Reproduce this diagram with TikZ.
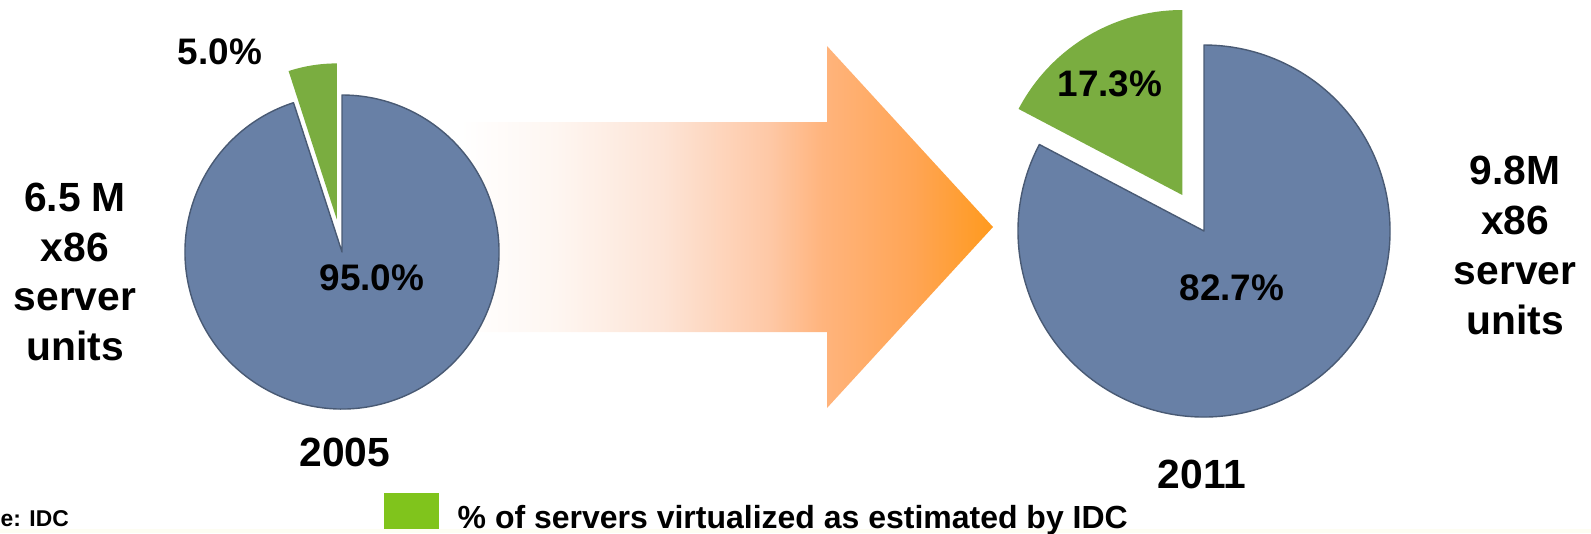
\documentclass[tikz,border=0pt]{standalone}
\usepackage{fontspec}
\setmainfont{Liberation Sans}
\definecolor{pieblue}{RGB}{104,128,166}
\definecolor{piegreen}{RGB}{122,173,64}
\definecolor{keygreen}{RGB}{128,196,28}
\definecolor{cream}{RGB}{253,253,242}
\definecolor{peachA}{RGB}{254,246,241}
\definecolor{peachB}{RGB}{253,228,214}
\definecolor{peachC}{RGB}{254,200,166}
\definecolor{peachD}{RGB}{255,180,125}
\definecolor{orangeA}{RGB}{255,165,85}
\definecolor{orangeB}{RGB}{255,154,30}
\pgfdeclarehorizontalshading{arrowfade}{100bp}{color(0bp)=(white); color(25bp)=(white); color(34bp)=(peachA); color(44bp)=(peachB); color(54bp)=(peachC); color(59bp)=(peachD); color(67.5bp)=(orangeA); color(75bp)=(orangeB); color(100bp)=(orangeB)}
\begin{document}
\begin{tikzpicture}[line cap=round,line join=round,
	pct/.style={font=\fontsize{10.5}{12.6}\selectfont\bfseries,inner sep=0pt},
	units/.style={font=\fontsize{11.6}{14.2}\selectfont\bfseries,align=center,inner sep=0pt},
	year/.style={font=\fontsize{11.6}{14}\selectfont\bfseries,inner sep=0pt}]
			\useasboundingbox (0,0) rectangle (15.91,5.33);
			\fill[cream] (0,0) rectangle (15.91,0.04);
			\shade[shading=arrowfade] (4.6,4.11)--(8.27,4.11)--(8.27,4.87)--(9.93,3.06)--(8.27,1.25)--(8.27,2.01)--(4.6,2.01)--cycle;
			\filldraw[fill=pieblue,draw=pieblue!70!black,line width=0.4pt] (3.42,2.81)--+(108:1.57) arc (108:450:1.57)--cycle;
			\fill[piegreen] (3.368,3.136)--+(90:1.56) arc (90:108:1.56)--cycle;
			\filldraw[fill=pieblue,draw=pieblue!70!black,line width=0.4pt] (12.04,3.02)--+(152.28:1.86) arc (152.28:450:1.86)--cycle;
			\fill[piegreen] (11.823,3.38)--+(90:1.85) arc (90:152.28:1.85)--cycle;
			\node[pct] (p5) at (2.20,4.81) {5.0\%};
			\node[pct] (p95) at (3.72,2.55) {95.0\%};
			\node[pct] (p17) at (11.10,4.49) {17.3\%};
			\node[pct] (p82) at (12.32,2.45) {82.7\%};
			\node[units] (old) at (0.75,2.61) {6.5 M\\x86\\server\\units};
			\node[units] (new) at (15.15,2.875) {9.8M\\x86\\server\\units};
			\node[year] (y2005) at (3.45,0.81) {2005};
			\node[year] (y2011) at (12.02,0.585) {2011};
			\fill[keygreen] (3.84,0.04) rectangle (4.39,0.40);
			\node[anchor=base west,inner sep=0pt,font=\fontsize{9.1}{11}\selectfont\bfseries] (key) at (4.57,0.05) {\% of servers virtualized as estimated by IDC};
			\node[anchor=west,inner sep=0pt,font=\fontsize{6.5}{8}\selectfont\bfseries] (src) at (0,0.14) {e: IDC};
		\end{tikzpicture}
\end{document}
